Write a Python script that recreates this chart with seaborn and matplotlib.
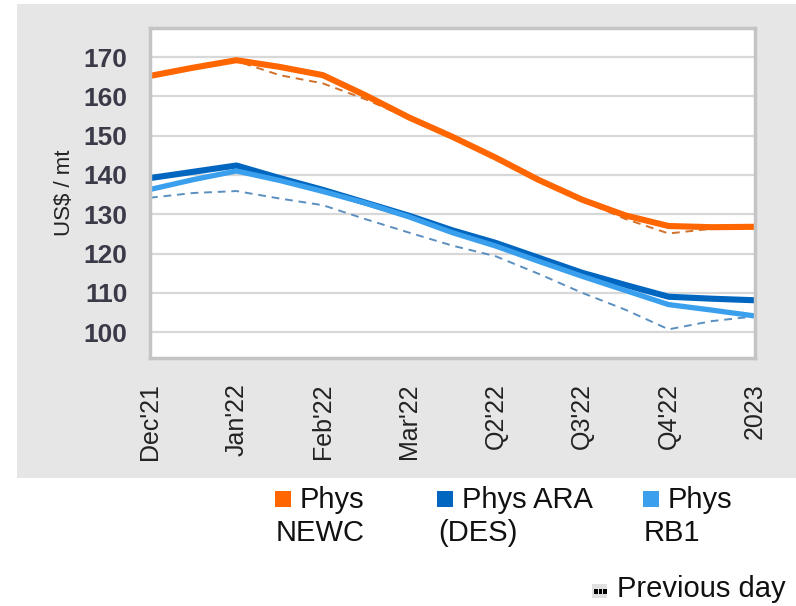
import numpy as np
import pandas as pd
import matplotlib.pyplot as plt
import matplotlib.patches as mpatches
from matplotlib.ticker import MultipleLocator
import seaborn as sns

# Data (x = position along the forward curve, 0 = Dec'21 ... 7 = 2023)
tick_labels = ["Dec'21", "Jan'22", "Feb'22", "Mar'22", "Q2'22", "Q3'22", "Q4'22", "2023"]
x_pos = [0, 0.5, 1, 1.5, 2, 2.5, 3, 3.5, 4, 4.5, 5, 5.5, 6, 6.5, 7]

newc = [165.2, 167.3, 169.2, 167.5, 165.4, 160.2, 154.6, 149.7, 144.4, 138.7, 133.7, 129.7, 127.0, 126.7, 126.8]
newc_prev = [165.0, 167.2, 169.0, 165.4, 163.3, 159.2, 154.4, 149.5, 144.3, 138.6, 133.5, 128.8, 125.1, 126.3, 126.7]
ara = [139.2, 140.8, 142.4, 139.2, 136.2, 132.9, 129.6, 125.9, 122.7, 118.9, 115.1, 112.0, 109.0, 108.5, 108.1]
rb1 = [136.3, 138.8, 141.0, 138.6, 135.8, 132.8, 129.3, 125.3, 121.9, 118.0, 114.2, 110.6, 107.0, 105.6, 104.1]
rb1_prev = [134.2, 135.4, 135.9, 134.0, 132.3, 128.7, 125.3, 122.0, 119.3, 114.8, 110.0, 105.7, 100.7, 102.8, 104.0]

df = pd.DataFrame({"x": x_pos, "newc": newc, "newc_prev": newc_prev,
                   "ara": ara, "rb1": rb1, "rb1_prev": rb1_prev})

sns.set_style("white")
plt.rcParams['font.family'] = ['Liberation Sans', 'DejaVu Sans']

c_newc = "#FF6600"
c_ara = "#0066C0"
c_rb1 = "#3AA0EE"

fig = plt.figure(figsize=(7.96, 6.06), dpi=100)
fig.patch.set_facecolor("white")

# grey panel behind the chart
fig.add_artist(mpatches.Rectangle((0.021, 0.211), 0.979, 0.782, transform=fig.transFigure,
                                  facecolor="#E6E6E6", edgecolor="none", zorder=0))

ax = fig.add_axes([0.1884, 0.4092, 0.7601, 0.5446])
ax.set_facecolor("white")

# previous day (dashed)
sns.lineplot(data=df, x="x", y="rb1_prev", ax=ax, color="#5A8FC0", linewidth=1.4,
             linestyle=(0, (4, 3)))
sns.lineplot(data=df, x="x", y="newc_prev", ax=ax, color="#D0702A", linewidth=1.4,
             linestyle=(0, (4, 3)))
# current
sns.lineplot(data=df, x="x", y="newc", ax=ax, color=c_newc, linewidth=4.4)
sns.lineplot(data=df, x="x", y="ara", ax=ax, color=c_ara, linewidth=4.4)
sns.lineplot(data=df, x="x", y="rb1", ax=ax, color=c_rb1, linewidth=3.8)

ax.set_xlim(0, 7)
ax.set_ylim(93.4, 177.4)
ax.set_yticks([100, 110, 120, 130, 140, 150, 160, 170])
ax.set_xticks(range(len(tick_labels)))
ax.set_xticklabels(tick_labels, rotation=90, fontsize=18, color="#222222")
ax.xaxis.set_minor_locator(MultipleLocator(0.25))
ax.tick_params(axis="y", length=0, pad=16, labelsize=19, labelcolor="#3A3A48")
for t in ax.get_yticklabels():
    t.set_fontweight("bold")
ax.tick_params(axis="x", which="major", length=11, width=1.2, color="#8A8A8A", pad=7, direction="out")
ax.tick_params(axis="x", which="minor", length=5, width=1.0, color="#8A8A8A", direction="out")
ax.yaxis.grid(True, color="#D8D8D8", linewidth=1.6)
ax.xaxis.grid(False)
for s in ax.spines.values():
    s.set_color("#C4C4C4")
    s.set_linewidth(2.5)
ax.set_xlabel("")
ax.set_ylabel("US$ / mt", fontsize=16, color="#222222", labelpad=6)

# legend drawn by hand below the panel
W, H = 796.0, 606.0
def fx(px):
    return px / W
def fy(py):
    return 1 - py / H

legend_items = [("Phys", "NEWC", c_newc, 275), ("Phys ARA", "(DES)", c_ara, 437), ("Phys", "RB1", c_rb1, 643)]
for first, second, col, px in legend_items:
    fig.add_artist(mpatches.Rectangle((fx(px), fy(507)), 16 / W, 16 / H, transform=fig.transFigure,
                                      facecolor=col, edgecolor="none"))
    fig.text(fx(px + 25), fy(500), first, fontsize=21, va="center", ha="left", color="#111111")
    fig.text(fx(px + 1), fy(533), second, fontsize=21, va="center", ha="left", color="#111111")

# "previous day" icon: grey box with three black dots
fig.add_artist(mpatches.Rectangle((fx(592), fy(598)), 15 / W, 14 / H, transform=fig.transFigure,
                                  facecolor="#E0E0E0", edgecolor="none"))
for dx in (594, 598.5, 603):
    fig.add_artist(mpatches.Rectangle((fx(dx), fy(594)), 3.5 / W, 5 / H, transform=fig.transFigure,
                                      facecolor="black", edgecolor="none"))
fig.text(fx(617), fy(589), "Previous day", fontsize=21, va="center", ha="left", color="#111111")

plt.savefig("out.png", dpi=100)
